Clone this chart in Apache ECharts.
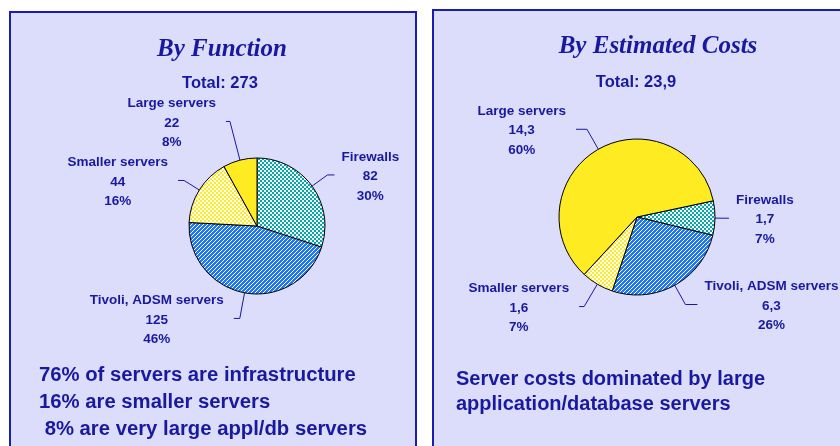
<!DOCTYPE html>
<html>
<head>
<meta charset="utf-8">
<script src="https://cdn.jsdelivr.net/npm/echarts@6/dist/echarts.min.js"></script>
<style>
html,body{margin:0;padding:0;background:#ffffff;}
#chart{width:840px;height:446px;}
</style>
</head>
<body>
<div id="chart"></div>
<script>
// ---- data ----
const categories = ['Firewalls', 'Tivoli, ADSM servers', 'Smaller servers', 'Large servers'];
const functionValues = [82, 125, 44, 22];
const costValues = [1.7, 6.3, 1.6, 14.3];
const titles = ['By Function', 'By Estimated Costs'];
const totals = ['Total: 273', 'Total: 23,9'];
const functionNotes = ['76% of servers are infrastructure', '16% are smaller servers', ' 8% are very large appl/db servers'];
const costNotes = ['Server costs dominated by large', 'application/database servers'];

// ---- styles ----
const TEXT = '#1919a0';
function makePattern(size, draw) {
  const c = document.createElement('canvas');
  c.width = size; c.height = size;
  const ctx = c.getContext('2d');
  draw(ctx);
  return { image: c, repeat: 'repeat' };
}
const tealChecker = makePattern(4, ctx => {
  ctx.fillStyle = '#ffffff'; ctx.fillRect(0, 0, 4, 4);
  ctx.fillStyle = '#00a9ab'; ctx.fillRect(0, 0, 2, 2); ctx.fillRect(2, 2, 2, 2);
});
const blueHatch = makePattern(4, ctx => {
  ctx.fillStyle = '#1f78ee'; ctx.fillRect(0, 0, 4, 4);
  ctx.fillStyle = '#ffffff';
  for (let i = 0; i < 4; i++) ctx.fillRect(i, 3 - i, 1, 1);
});
const yellowChecker = makePattern(4, ctx => {
  ctx.fillStyle = '#ffffff'; ctx.fillRect(0, 0, 4, 4);
  ctx.fillStyle = '#ffec1e'; ctx.fillRect(0, 0, 2, 2); ctx.fillRect(2, 2, 2, 2);
  ctx.fillRect(1, 0, 1, 1);
});
const sliceFills = [tealChecker, blueHatch, yellowChecker, '#ffeb22'];
const funcLines = [[19, 7], [26, 6], [18, 6], [40, 4]];
const costLines = [[8, 6], [22, 12], [26, 5], [23, 11]];

function buildData(values, lines) {
  return values.map((v, i) => ({
    value: v,
    name: categories[i],
    itemStyle: { color: sliceFills[i] },
    labelLine: { length: lines[i][0], length2: lines[i][1] }
  }));
}

function labelLayout(params) {
  const pts = params.labelLinePoints;
  if (!pts) return {};
  const end = pts[pts.length - 1];
  const left = end[0] < pts[0][0];
  const gap = left ? 10 : 7;
  const w = params.labelRect.width;
  return {
    x: left ? end[0] - gap - w / 2 : end[0] + gap + w / 2,
    y: end[1] + 1.5,
    align: 'center',
    verticalAlign: 'middle',
    labelLinePoints: pts
  };
}

function pieSeries(values, lines, center, radius, startAngle) {
  return {
    type: 'pie',
    center: center,
    radius: radius,
    startAngle: startAngle,
    clockwise: true,
    avoidLabelOverlap: false,
    animation: false,
    data: buildData(values, lines),
    itemStyle: { borderColor: '#000000', borderWidth: 1 },
    label: {
      show: true,
      position: 'outside',
      color: TEXT,
      fontFamily: 'Liberation Sans',
      fontWeight: 'bold',
      fontSize: 13.5,
      lineHeight: 19.5,
      formatter: p => p.name + '\n' + String(p.value).replace('.', ',') + '\n' + Math.round(p.percent) + '%'
    },
    labelLine: { show: true, lineStyle: { color: TEXT, width: 1 } },
    labelLayout: labelLayout,
    emphasis: { disabled: true }
  };
}

const graphics = [
  { type: 'rect', z: -10, shape: { x: 10, y: 12, width: 406, height: 460 },
    style: { fill: '#dcdcfb', stroke: '#1c1cb4', lineWidth: 2 } },
  { type: 'rect', z: -10, shape: { x: 433, y: 10, width: 420, height: 460 },
    style: { fill: '#dcdcfb', stroke: '#1c1cb4', lineWidth: 2 } },
  { type: 'text', x: 222, y: 50, style: { text: titles[0], fill: TEXT, font: 'italic bold 25px "Liberation Serif"', align: 'center', verticalAlign: 'middle' } },
  { type: 'text', x: 658, y: 47, style: { text: titles[1], fill: TEXT, font: 'italic bold 25px "Liberation Serif"', align: 'center', verticalAlign: 'middle' } },
  { type: 'text', x: 220, y: 83, style: { text: totals[0], fill: TEXT, font: 'bold 16.5px "Liberation Sans"', align: 'center', verticalAlign: 'middle' } },
  { type: 'text', x: 636, y: 82, style: { text: totals[1], fill: TEXT, font: 'bold 16.5px "Liberation Sans"', align: 'center', verticalAlign: 'middle' } }
];
functionNotes.forEach((t, i) => graphics.push({
  type: 'text', x: 39, y: 375 + i * 27,
  style: { text: t, fill: TEXT, font: 'bold 20.3px "Liberation Sans"', align: 'left', verticalAlign: 'middle' }
}));
costNotes.forEach((t, i) => graphics.push({
  type: 'text', x: 456, y: 379 + i * 25,
  style: { text: t, fill: TEXT, font: 'bold 20px "Liberation Sans"', align: 'left', verticalAlign: 'middle' }
}));

const chart = echarts.init(document.getElementById('chart'), null, { renderer: 'canvas' });
chart.setOption({
  animation: false,
  backgroundColor: '#ffffff',
  graphic: graphics,
  series: [
    pieSeries(functionValues, funcLines, [257, 226], 68, 90),
    pieSeries(costValues, costLines, [637, 217], 78, 12)
  ]
});
</script>
</body>
</html>
